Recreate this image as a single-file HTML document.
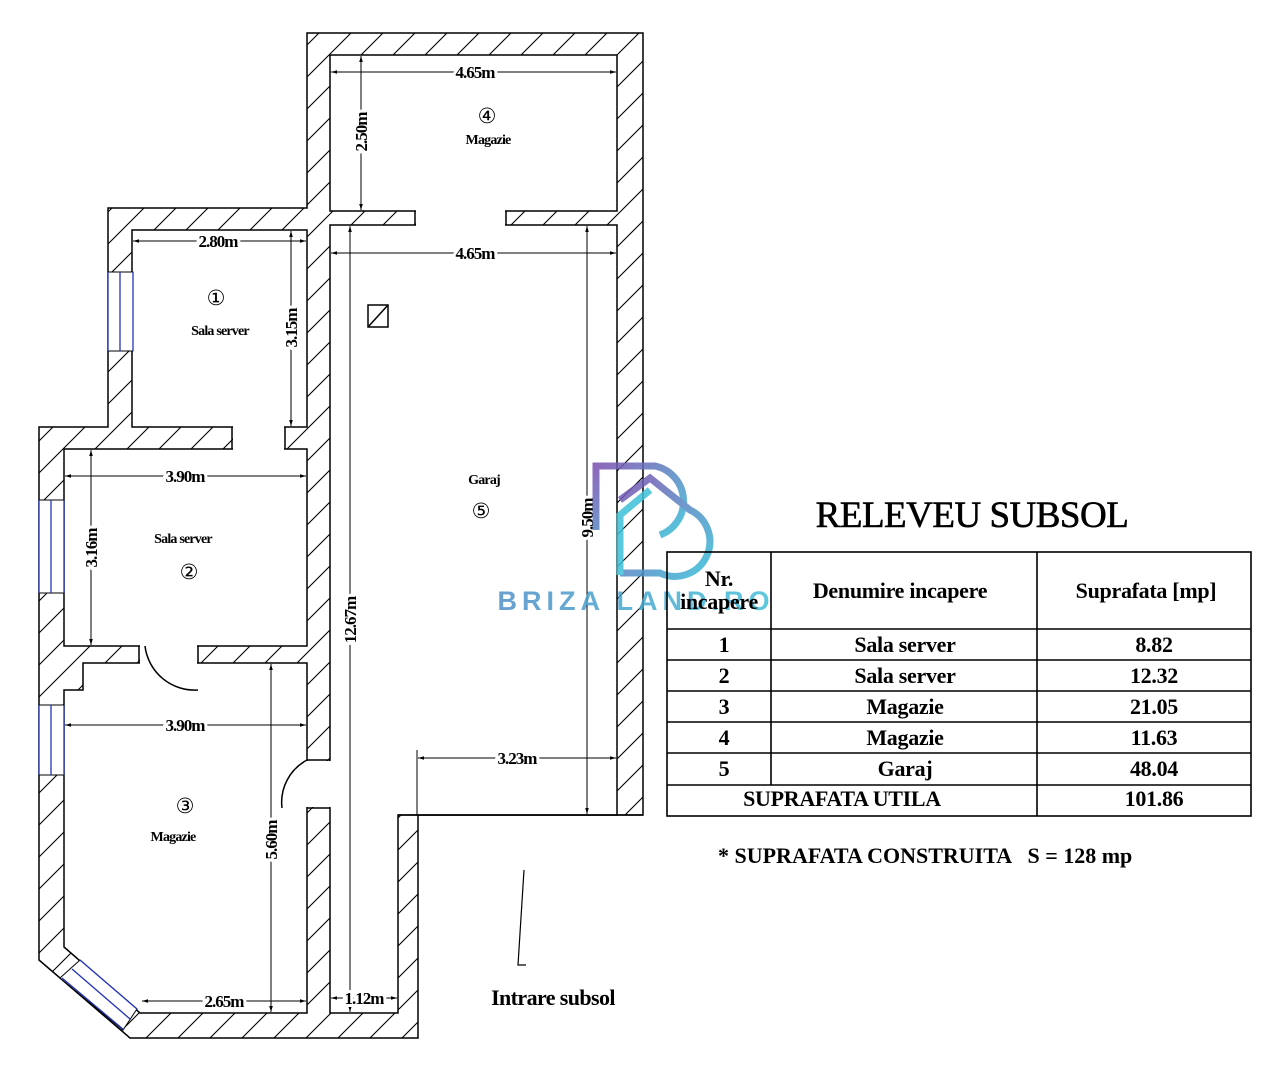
<!DOCTYPE html>
<html><head><meta charset="utf-8"><style>
html,body{margin:0;padding:0;background:#fff;width:1272px;height:1080px;overflow:hidden}
svg{display:block}
.d{font-family:"Liberation Serif",serif;font-weight:bold;font-size:17px;letter-spacing:-1px}
.l{font-family:"Liberation Serif",serif;font-weight:bold;font-size:14px;letter-spacing:-0.8px}
.c{font-family:"DejaVu Sans",sans-serif;font-size:21px}
.t{font-family:"Liberation Serif",serif;font-size:22px;letter-spacing:-0.3px;font-weight:bold}
</style></head><body>
<svg width="1272" height="1080" viewBox="0 0 1272 1080" xmlns="http://www.w3.org/2000/svg">
<defs>
<pattern id="h" patternUnits="userSpaceOnUse" width="32" height="32">
<path d="M0,32 L32,0 M-4,4 L4,-4 M28,36 L36,28" stroke="#000" stroke-width="1.1"/>
</pattern>
<marker id="a" viewBox="0 0 10 10" refX="10" refY="5" markerWidth="10" markerHeight="6" orient="auto-start-reverse" markerUnits="userSpaceOnUse">
<path d="M0,2 L10,5 L0,8 z" fill="#000"/></marker>
<linearGradient id="g" x1="0" y1="0" x2="1" y2="1"><stop offset="0" stop-color="#7a4fb0"/><stop offset="1" stop-color="#35c0d8"/></linearGradient>
<linearGradient id="g2" x1="0" y1="0" x2="1" y2="0"><stop offset="0" stop-color="#4f8fc8"/><stop offset="1" stop-color="#40c0d8"/></linearGradient>
</defs>
<rect width="1272" height="1080" fill="#fff"/>
<g stroke="#000" stroke-width="1.5">
<polygon points="307,33 643,33 643,815 418,815 418,1038 130,1038 39,960 39,427 108,427 108,208 307,208" fill="url(#h)"/>
<rect x="330" y="55" width="287" height="156" fill="#fff"/>
<polygon points="330,225 617,225 617,815 398,815 398,1013 330,1013" fill="#fff"/>
<rect x="132" y="230" width="175" height="197" fill="#fff"/>
<rect x="64" y="449" width="243" height="197" fill="#fff"/>
<polygon points="83,663 307,663 307,1013 140,1013 64,947 64,690 83,690" fill="#fff"/>
</g>
<g fill="#fff">
<rect x="416" y="209" width="89" height="18"/>
<rect x="233" y="425" width="51" height="26"/>
<rect x="140" y="644" width="57" height="21"/>
<rect x="305" y="761" width="26" height="46"/>
</g>
<g stroke="#000" stroke-width="1.5" fill="none">
<path d="M415,211V225M506,211V225M232,427V449M285,427V449M139,646V663M198,646V663M307,760H330M307,808H330"/>
<path d="M145,646 A50,50 0 0 0 198,690"/>
<path d="M307,760 A48,48 0 0 0 282,808"/>
<path d="M398,815H643"/>
<rect x="368" y="305" width="20" height="22"/><path d="M368,327L388,305"/>
</g>
<g>
<rect x="108" y="272" width="25" height="79" fill="#fff" stroke="#000"/>
<path d="M108,272V351M120,272V351M133,272V351" stroke="#2233bb" stroke-width="1.3"/>
<rect x="39" y="500" width="25" height="93" fill="#fff" stroke="#000"/>
<path d="M39,500V593M51,500V593M64,500V593" stroke="#2233bb" stroke-width="1.3"/>
<rect x="39" y="705" width="25" height="70" fill="#fff" stroke="#000"/>
<path d="M39,705V775M51,705V775M64,705V775" stroke="#2233bb" stroke-width="1.3"/>
<polygon points="60,978 80,960 137,1009 123,1030" fill="#fff" stroke="#000"/>
<path d="M62,978L124,1030M72,969L130,1019M80,960L137,1009" stroke="#2233bb" stroke-width="1.3"/>
</g>
<g stroke="#000" stroke-width="1" marker-start="url(#a)" marker-end="url(#a)">
<path d="M331,72H616"/><path d="M361,56V210"/>
<path d="M331,253H616"/><path d="M350,226V1012"/><path d="M587,226V814"/>
<path d="M133,241H306"/><path d="M291,231V426"/>
<path d="M65,476H306"/><path d="M91,450V645"/>
<path d="M65,725H306"/><path d="M271,664V1012"/>
<path d="M142,1001H306"/><path d="M331,998H397"/>
<path d="M418,758H616"/>
</g>
<path d="M417,750V815" stroke="#000"/>
<g class="d" text-anchor="middle" stroke="#fff" stroke-width="6" paint-order="stroke">
<text x="475" y="78">4.65m</text>
<text x="475" y="259">4.65m</text>
<text x="218" y="247">2.80m</text>
<text x="185" y="482">3.90m</text>
<text x="185" y="731">3.90m</text>
<text x="224" y="1007">2.65m</text>
<text x="364" y="1004">1.12m</text>
<text x="517" y="764">3.23m</text>
<text transform="translate(367,132) rotate(-90)">2.50m</text>
<text transform="translate(297,328) rotate(-90)">3.15m</text>
<text transform="translate(97,548) rotate(-90)">3.16m</text>
<text transform="translate(277,840) rotate(-90)">5.60m</text>
<text transform="translate(356,620) rotate(-90)">12.67m</text>
<text transform="translate(593,518) rotate(-90)">9.50m</text>
</g>
<g text-anchor="middle">
<text class="c" x="216" y="305">①</text><text class="l" x="220" y="335">Sala server</text>
<text class="l" x="183" y="543">Sala server</text><text class="c" x="189" y="579">②</text>
<text class="c" x="185" y="813">③</text><text class="l" x="173" y="841">Magazie</text>
<text class="c" x="487" y="123">④</text><text class="l" x="488" y="144">Magazie</text>
<text class="l" x="484" y="484">Garaj</text><text class="c" x="481" y="518">⑤</text>
</g>
<path d="M524,870L518,965H526" stroke="#000" fill="none" stroke-width="1.2"/>
<text x="553" y="1005" text-anchor="middle" font-family="Liberation Serif,serif" font-weight="bold" font-size="22" letter-spacing="-0.6">Intrare subsol</text>
<g fill="none" stroke-width="7" opacity="0.85">
<path d="M596,530V466H655A36,36 0 0 1 660,535" stroke="url(#g)"/>
<path d="M620,500L650,478L690,510A32,32 0 0 1 660,573H620" stroke="url(#g)"/>
<path d="M620,575V515L650,490" stroke="#3fc0d8"/>
</g>
<text x="636" y="610" text-anchor="middle" font-family="Liberation Sans,sans-serif" font-weight="bold" font-size="27" letter-spacing="5" fill="url(#g2)" opacity="0.85">BRIZA LAND.RO</text>
<text x="972" y="527" text-anchor="middle" font-family="Liberation Serif,serif" font-size="37" letter-spacing="-0.5" stroke="#000" stroke-width="0.6">RELEVEU SUBSOL</text>
<g stroke="#000" stroke-width="1.6" fill="none">
<rect x="667" y="552" width="584" height="264"/>
<path d="M771,552V785M1037,552V816M667,629H1251M667,660H1251M667,691H1251M667,722H1251M667,753H1251M667,785H1251"/>
</g>
<g class="t" text-anchor="middle">
<text x="719" y="586">Nr.</text><text x="719" y="609">incapere</text>
<text x="900" y="598">Denumire incapere</text><text x="1146" y="598">Suprafata [mp]</text>
<text x="724" y="652">1</text><text x="905" y="652">Sala server</text><text x="1154" y="652">8.82</text>
<text x="724" y="683">2</text><text x="905" y="683">Sala server</text><text x="1154" y="683">12.32</text>
<text x="724" y="714">3</text><text x="905" y="714">Magazie</text><text x="1154" y="714">21.05</text>
<text x="724" y="745">4</text><text x="905" y="745">Magazie</text><text x="1154" y="745">11.63</text>
<text x="724" y="776">5</text><text x="905" y="776">Garaj</text><text x="1154" y="776">48.04</text>
<text x="842" y="806">SUPRAFATA UTILA</text><text x="1154" y="806">101.86</text>
</g>
<text x="718" y="863" class="t" style="font-size:22px;letter-spacing:0px">* SUPRAFATA CONSTRUITA &#160; S = 128 mp</text>
</svg>
</body></html>
